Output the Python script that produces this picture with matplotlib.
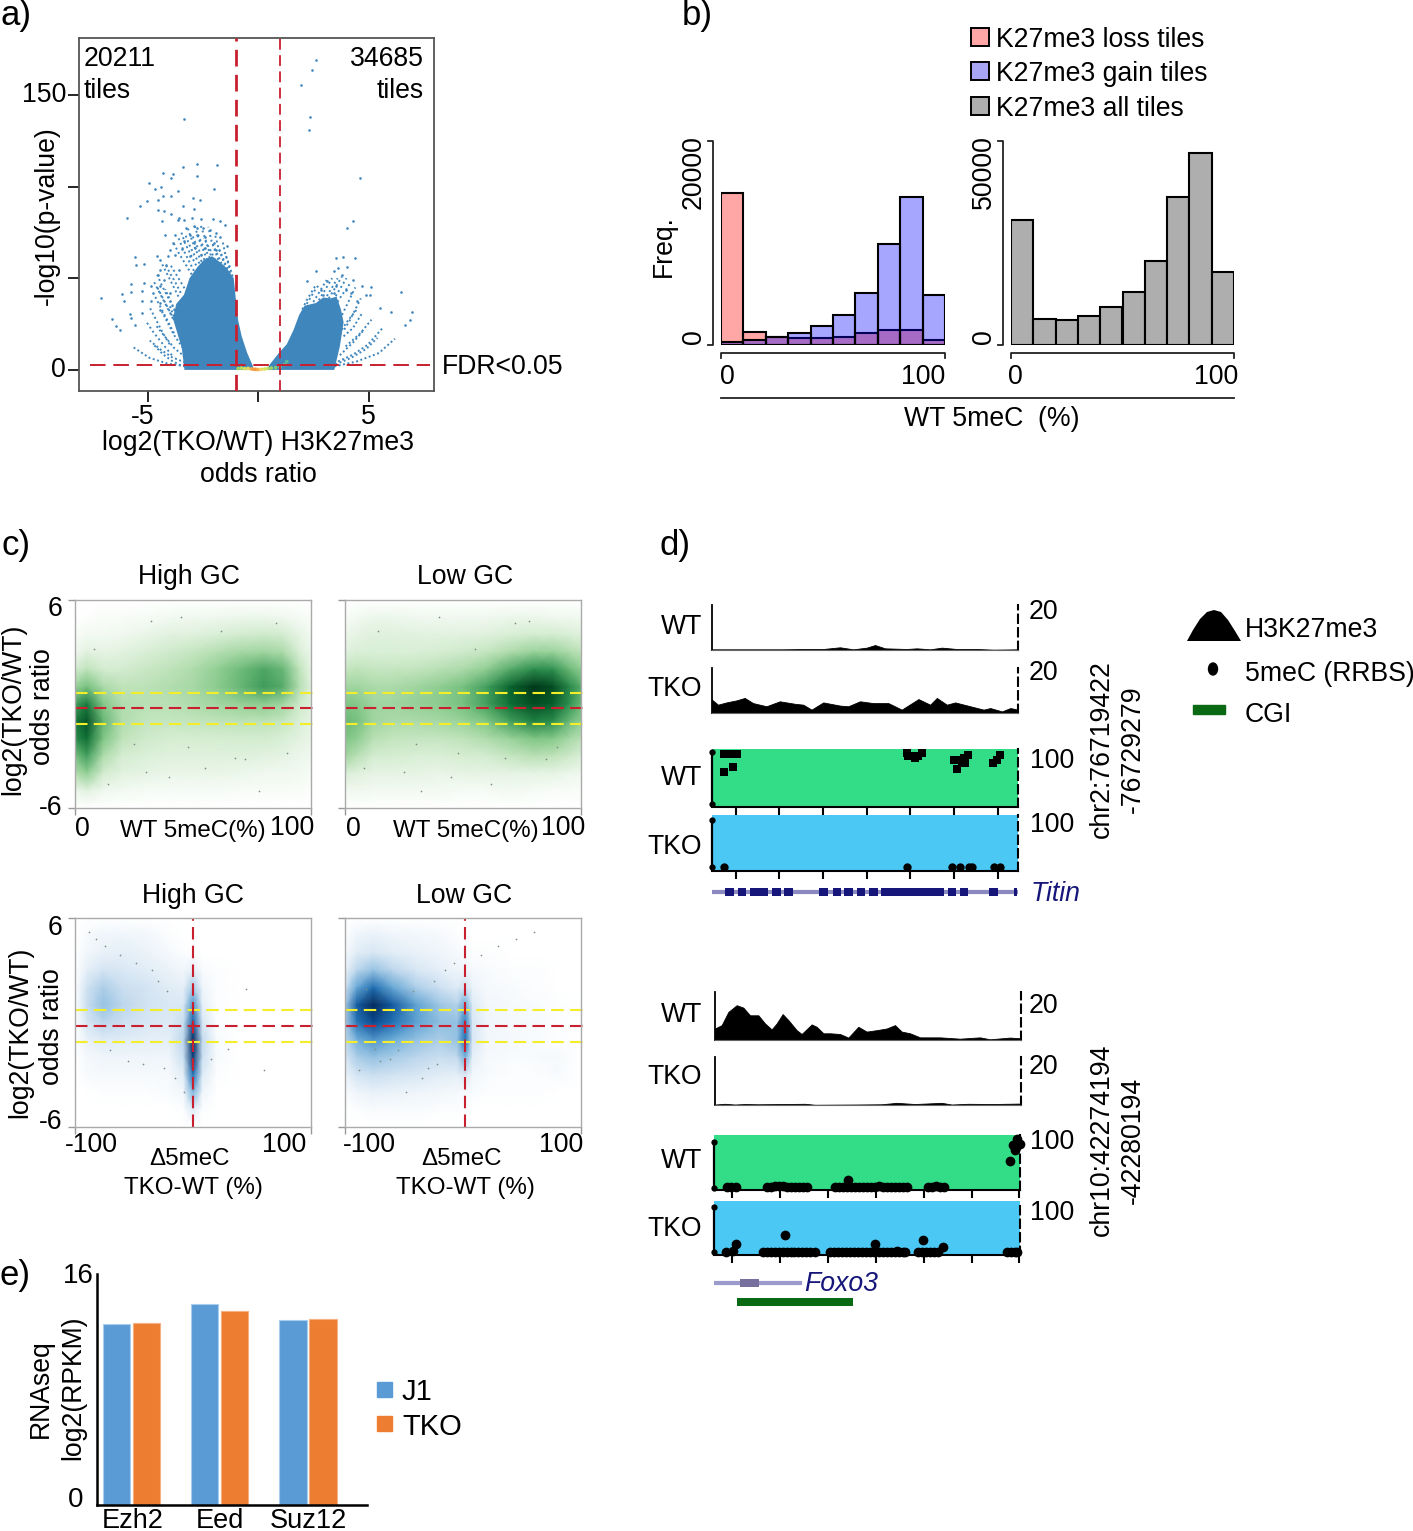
#!/usr/bin/env python
import numpy as np
import matplotlib
matplotlib.use("Agg")
import matplotlib.pyplot as plt
from matplotlib.colors import LinearSegmentedColormap
from matplotlib.patches import Rectangle, Ellipse

# panel a: outline of the dense mass, the arcs and the single points
mass_left_x = [-3.33, -3.45, -3.65, -3.85, -3.70, -3.35, -3.10, -2.75, -2.45, -2.08, -1.75, -1.41, -1.10, -1.00, -0.90,
               -0.74, -0.49, -0.23, -0.23]
mass_left_y = [0, 12.0, 20.0, 28.0, 36.0, 41.0, 50.0, 56.0, 60.0, 62.0, 59.0, 55.5, 50.0, 38.0, 27.0, 18.3, 9.2, 2.0, 0]
mass_right_x = [0.40, 0.52, 0.94, 1.30, 1.61, 1.86, 2.10, 2.62, 2.95, 3.29, 3.55, 3.75, 3.87, 3.70, 3.45]
mass_right_y = [0, 2.8, 9.2, 14.0, 21.9, 30.0, 35.0, 36.5, 39.5, 39.0, 40.0, 33.0, 26.0, 12.8, 0]
arcs_x = [[-3.3, -4.1, -4.9, -5.7], [-3.3, -3.9, -4.4, -4.9], [-3.3, -3.8, -4.2, -4.6], [-3.4, -3.8, -4.1, -4.4],
          [-3.4, -3.7, -4.0], [-3.5, -3.9, -4.3, -4.7], [-3.6, -3.9, -4.2],
          [3.45, 4.46, 5.47, 6.19], [3.62, 4.29, 4.96, 5.63], [3.96, 4.63, 5.13], [3.87, 4.29, 4.71], [3.79, 4.04, 4.46],
          [3.5, 4.2, 4.9, 5.4], [3.7, 4.3, 4.8]]
arcs_y = [[2.0, 3.5, 6.5, 12.8], [4.0, 7.0, 11.0, 16.0], [7.0, 12.0, 18.0, 24.0], [12.0, 19.0, 26.0, 33.0],
          [18.0, 26.0, 35.0], [2.5, 5.0, 8.5, 13.5], [28.0, 36.0, 44.0],
          [1.9, 4.6, 9.2, 17.0], [4.6, 8.3, 13.7, 22.8], [12.8, 20.0, 27.4], [18.3, 22.8, 31.0], [22.0, 26.5, 32.8],
          [3.0, 6.5, 11.5, 17.5], [8.0, 15.0, 22.0]]
# looser runs of points above and beside the mass
cloud_x = [[-3.1, -3.4, -3.7, -4.0], [-3.0, -3.3, -3.6, -3.85], [-2.8, -3.05, -3.3, -3.5], [-2.55, -2.8, -3.0, -3.2],
           [-2.3, -2.5, -2.7, -2.9], [-2.05, -2.25, -2.4, -2.6], [-1.8, -1.95, -2.1, -2.25], [-1.5, -1.65, -1.8, -1.95],
           [-1.25, -1.35, -1.5, -1.6], [-3.7, -4.0, -4.3, -4.6], [-3.75, -4.05, -4.35, -4.6], [-3.6, -3.85, -4.1, -4.35],
           [-4.0, -4.3, -4.6, -4.9], [-3.9, -4.3, -4.7, -5.1],
           [2.0, 2.2, 2.4, 2.6], [2.5, 2.7, 2.9, 3.1], [3.0, 3.2, 3.4, 3.6], [3.4, 3.6, 3.8, 4.0], [3.8, 4.0, 4.2, 4.4],
           [3.9, 4.15, 4.4, 4.65],
           [-2.9, -3.15, -3.4, -3.6], [-2.65, -2.9, -3.1, -3.3], [-2.42, -2.62, -2.82, -3.0], [-2.18, -2.36, -2.55, -2.72],
           [-1.95, -2.1, -2.28, -2.45], [-1.65, -1.8, -1.95, -2.1], [-1.38, -1.52, -1.66, -1.8], [-1.15, -1.25, -1.38, -1.5],
           [-3.8, -4.1, -4.4, -4.7], [-3.85, -4.15, -4.45, -4.75], [-3.5, -3.75, -4.0, -4.2],
           [2.2, 2.4, 2.6, 2.8], [2.75, 2.95, 3.15, 3.35], [3.2, 3.4, 3.6, 3.8], [3.6, 3.8, 4.0, 4.2]]
cloud_y = [[40, 46, 52, 58], [52, 58, 64, 70], [57, 63, 69, 76], [59, 65, 71, 78], [60, 66, 72, 80], [60, 66, 72, 79],
           [60, 65, 70, 78], [57, 62, 67, 74], [53, 58, 64, 70], [25, 32, 39, 46], [32, 39, 46, 53], [40, 46, 52, 58],
           [14, 20, 27, 34], [8, 14, 20, 27],
           [33, 38, 42, 46], [37, 41, 45, 49], [38, 42, 46, 50], [38, 42, 46, 50], [30, 35, 40, 45], [22, 27, 33, 39],
           [54, 60, 66, 72], [58, 63, 68, 74], [60, 64, 69, 74], [61, 65, 69, 74], [60, 64, 68, 72], [58, 62, 66, 70],
           [55, 59, 63, 67], [51, 55, 60, 64], [20, 27, 34, 41], [28, 35, 42, 49], [42, 48, 53, 58],
           [36, 40, 44, 47], [38, 42, 46, 50], [39, 43, 47, 51], [37, 41, 44, 48]]
points_x = [2.62, 2.42, 1.96, 2.33, 2.30, 4.59, 4.31, 4.02, 4.38, 3.84, 3.54, 4.04, 3.62, 3.42, 2.62, 6.47, 6.02, 6.97,
            6.89, 6.67, 2.23, 3.12, 3.79, 4.29, 4.71, 5.10, 4.88, 5.05, 5.50, 4.46, 2.87, 3.54, 3.96, 4.21, 3.45, 2.95,
            -3.35, -2.75, -1.84, -3.38, -4.29, -3.85, -2.78, -3.95, -4.93, -4.67, -4.37, -3.64, -1.98, -4.29, -3.95,
            -4.51, -5.03, -2.95, -2.63, -5.34, -3.38, -4.51, -4.26, -2.88, -5.93, -3.95, -3.59, -3.00, -2.58, -2.04,
            -4.34, -3.62, -3.33, -1.74, -1.49, -2.91, -2.75, -2.50, -3.25, -2.16, -1.91, -4.22, -3.75, -3.08, -2.75,
            -2.41, -1.74, -3.84, -3.33, -2.91, -1.99, -1.41, -4.00, -3.42, -2.83, -2.41, -1.91, -5.56, -4.56, -4.09,
            -3.75, -3.08, -2.58, -5.50, -5.18, -4.42, -4.17, -3.59, -4.42, -4.51, -4.26, -5.76, -5.18, -4.84, -4.42,
            -4.00, -6.15, -5.76, -5.26, -4.76, -7.09, -6.05, -5.26, -4.84, -4.42, -5.81, -5.73, -5.26, -4.42, -6.62,
            -5.56, -6.43, -6.23]
points_y = [169.2, 163.4, 155.4, 137.9, 131.0, 104.6, 81.2, 77.2, 61.0, 61.7, 61.0, 55.9, 55.5, 53.7, 53.7, 42.3, 31.4,
            31.4, 27.4, 24.6, 48.3, 48.3, 51.9, 49.2, 45.5, 45.2, 41.0, 41.0, 33.7, 37.4, 43.7, 45.6, 43.7, 41.9, 41.9,
            41.0, 137.0, 112.5, 111.5, 110.4, 107.5, 107.0, 105.5, 104.6, 101.9, 98.8, 99.7, 97.7, 98.8, 94.6, 94.8,
            92.8, 92.1, 93.9, 92.8, 89.2, 89.2, 87.0, 86.8, 87.7, 83.0, 85.2, 82.8, 82.8, 82.5, 82.3, 81.2, 81.6, 81.6,
            81.0, 79.2, 78.3, 77.4, 77.4, 77.4, 76.5, 74.6, 73.7, 73.4, 73.7, 73.7, 72.4, 72.4, 69.2, 70.1, 69.2, 69.2,
            67.4, 65.5, 65.9, 66.4, 66.4, 65.5, 61.7, 62.3, 61.9, 62.8, 61.9, 62.8, 57.4, 57.7, 60.1, 57.4, 54.6, 54.6,
            51.9, 49.2, 46.8, 47.4, 45.6, 45.6, 41.9, 41.4, 42.3, 42.8, 41.9, 39.2, 37.4, 37.4, 37.4, 36.5, 30.6, 28.3,
            31.0, 32.8, 27.7, 24.6, 24.1, 21.5]
ns_x = [-0.9, -0.75, -0.6, -0.45, -0.3, -0.2, -0.1, 0.0, 0.15, 0.3, 0.45, 0.6, 0.8, 1.0, 1.2, 1.3]
ns_y = [0.8, 1.0, 0.7, 0.8, 0.5, 0.4, 0.3, 0.2, 0.3, 0.5, 0.8, 1.0, 1.2, 1.6, 3.0, 4.5]
ns_col = ["#9ed35f", "#b7dc5c", "#d8e35a", "#f2d85a", "#f6b04e", "#f69a45", "#f69a45", "#f6b04e", "#f2d85a", "#d8e35a",
          "#b7dc5c", "#9ed35f", "#7fcc77", "#6cc38f", "#5cb99a", "#5cb99a"]

# panel b
bin_edges = np.arange(0, 100, 10)
loss_tiles = [14927, 1268, 780, 683, 683, 780, 1171, 1463, 1463, 488]
gain_tiles = [293, 488, 780, 1171, 1854, 2927, 5073, 9854, 14537, 4878]
all_tiles = [30732, 6341, 6098, 7073, 9268, 12927, 20488, 36341, 47073, 17805]

# panel c: density, rows from +6 down to -6
dens_y = [6, 5, 4, 3, 2, 1, 0, -1, -2, -3, -4, -5, -6]
meth_x = [0, 5, 12, 20, 30, 40, 50, 60, 70, 80, 88, 95, 100]
high_gc_meth = [
    [0, 0, 0, 0, 0, 0, 0, 0, 0, 0, 0, 0, 0],
    [0, .01, .02, .02, .03, .04, .05, .05, .06, .06, .05, .03, .02],
    [.02, .04, .04, .05, .07, .09, .10, .12, .14, .15, .14, .08, .04],
    [.05, .09, .08, .09, .12, .15, .18, .23, .28, .30, .26, .12, .06],
    [.14, .20, .14, .14, .17, .20, .25, .34, .44, .52, .46, .20, .08],
    [.32, .42, .26, .20, .21, .24, .28, .36, .46, .56, .50, .24, .10],
    [.55, .70, .38, .24, .22, .22, .25, .29, .33, .36, .30, .16, .10],
    [.72, .88, .46, .24, .19, .18, .19, .20, .21, .21, .18, .12, .08],
    [.62, .78, .40, .20, .15, .13, .13, .13, .14, .14, .12, .09, .07],
    [.42, .55, .25, .13, .11, .10, .10, .10, .10, .09, .08, .06, .05],
    [.24, .34, .14, .09, .08, .07, .07, .07, .06, .05, .05, .04, .03],
    [.06, .09, .05, .04, .03, .03, .03, .03, .02, .02, .02, .02, .01],
    [0, 0, 0, 0, 0, 0, 0, 0, 0, 0, 0, 0, 0]]
low_gc_meth = [
    [0, 0, 0, 0, 0, 0, 0, 0, 0, 0, 0, 0, 0],
    [.02, .04, .06, .06, .05, .05, .05, .05, .06, .06, .05, .05, .04],
    [.06, .08, .10, .10, .09, .09, .09, .10, .12, .14, .14, .12, .10],
    [.10, .12, .12, .12, .12, .13, .15, .18, .25, .32, .32, .25, .20],
    [.18, .20, .18, .18, .19, .22, .26, .35, .50, .62, .60, .45, .35],
    [.30, .30, .26, .26, .30, .35, .42, .55, .82, 1.0, .92, .65, .50],
    [.40, .38, .30, .30, .33, .36, .42, .55, .78, .92, .85, .60, .45],
    [.45, .42, .30, .26, .26, .28, .32, .40, .55, .68, .62, .45, .35],
    [.40, .35, .22, .19, .18, .18, .20, .25, .32, .40, .38, .28, .22],
    [.30, .22, .14, .13, .12, .12, .13, .14, .18, .22, .20, .16, .12],
    [.12, .10, .08, .08, .08, .07, .08, .08, .08, .08, .08, .06, .05],
    [.04, .05, .04, .04, .04, .04, .03, .03, .04, .03, .02, .02, .02],
    [0, 0, 0, 0, 0, 0, 0, 0, 0, 0, 0, 0, 0]]
delta_x_high = [-100, -90, -76, -60, -40, -20, -8, 0, 8, 20, 40, 60, 80, 100]
high_gc_delta = [
    [0, 0, 0, 0, 0, 0, 0, 0, 0, 0, 0, 0, 0, 0],
    [0, .02, .05, .05, .04, .01, 0, 0, 0, 0, 0, 0, 0, 0],
    [0, .04, .07, .08, .06, .03, .01, .01, 0, 0, 0, 0, 0, 0],
    [0, .08, .13, .11, .09, .06, .04, .08, .02, .01, 0, 0, 0, 0],
    [0, .14, .24, .16, .13, .09, .08, .25, .05, .01, 0, 0, 0, 0],
    [0, .16, .30, .20, .14, .11, .12, .48, .08, .01, 0, 0, 0, 0],
    [0, .12, .20, .15, .12, .10, .16, .68, .12, .01, 0, 0, 0, 0],
    [0, .07, .10, .09, .08, .08, .20, .98, .18, .02, 0, 0, 0, 0],
    [0, .03, .05, .05, .05, .05, .16, .90, .16, .02, 0, 0, 0, 0],
    [0, .02, .03, .03, .03, .03, .09, .60, .10, .01, 0, 0, 0, 0],
    [0, 0, .01, .01, .01, .02, .04, .35, .05, 0, 0, 0, 0, 0],
    [0, 0, 0, 0, 0, 0, .01, .10, .01, 0, 0, 0, 0, 0],
    [0, 0, 0, 0, 0, 0, 0, 0, 0, 0, 0, 0, 0, 0]]
delta_x_low = [-100, -90, -76, -60, -40, -20, -5, 2, 8, 20, 40, 60, 80, 100]
low_gc_delta = [
    [0, 0, 0, 0, 0, 0, 0, 0, 0, 0, 0, 0, 0, 0],
    [.01, .05, .07, .05, .04, .03, .01, .01, 0, 0, 0, 0, 0, 0],
    [.03, .09, .12, .09, .07, .05, .03, .02, .01, .01, 0, 0, 0, 0],
    [.06, .20, .30, .20, .12, .08, .05, .05, .03, .02, .01, .01, 0, 0],
    [.14, .42, .62, .42, .24, .15, .10, .14, .06, .03, .02, .01, 0, 0],
    [.26, .70, 1.0, .72, .44, .28, .22, .40, .10, .04, .03, .02, .01, 0],
    [.24, .58, .80, .60, .44, .32, .30, .55, .12, .05, .03, .03, .01, 0],
    [.18, .38, .48, .40, .30, .24, .30, .60, .12, .04, .03, .02, .01, 0],
    [.12, .24, .30, .25, .20, .16, .18, .38, .08, .03, .02, .02, .03, 0],
    [.06, .13, .16, .14, .12, .09, .08, .12, .04, .02, .01, .01, .02, 0],
    [.02, .05, .07, .06, .05, .04, .03, .03, .02, .01, .01, .01, 0, 0],
    [0, .01, .02, .02, .02, .01, .01, .01, 0, 0, 0, 0, 0, 0],
    [0, 0, 0, 0, 0, 0, 0, 0, 0, 0, 0, 0, 0, 0]]
specks_meth_x = [32, 45, 62, 85, 8, 25, 48, 68, 90, 30, 55, 72, 14, 40, 78]
specks_meth_y = [4.8, 5.0, 4.2, 4.7, 3.2, -2.3, -2.5, -3.1, -2.8, -3.9, -3.7, -3.2, -4.6, -4.2, -5.0]
specks_delta_x = [-88, -82, -75, -62, -48, -35, -30, -22, -70, -55, -42, -25, -15, -8, 15, 30, 45, 60]
specks_delta_y = [5.2, 4.8, 4.4, 3.9, 3.4, 3.0, 2.4, 1.8, -1.6, -2.2, -2.4, -2.6, -3.2, -4.0, -2.1, -1.5, 1.9, -2.7]

# panel d: coverage and methylation along the two regions (arbitrary position units)
titin_wt_pos = [0, 213, 273, 333, 383, 423, 463, 488, 518, 583, 613, 653, 688, 733, 793, 843, 916]
titin_wt_cov = [.3, .3, .44, .44, 1.2, .3, 1.04, 2.2, .74, .44, .74, .3, 1.04, .44, .44, .15, .3]
titin_tko_pos = [0, 18, 43, 73, 98, 123, 163, 203, 248, 273, 298, 333, 383, 408, 443, 483, 528, 568, 618, 653, 673,
                 703, 728, 773, 813, 833, 868, 893, 916]
titin_tko_cov = [5.9, 3.7, 4.7, 5.6, 6.7, 4.4, 3.0, 5.2, 4.1, 3.7, 1.5, 4.7, 3.3, 3.0, 5.2, 4.4, 4.4, 1.5, 6.2, 3.7,
                 6.7, 3.7, 4.7, 3.0, 1.5, 2.2, .7, 2.2, 1.5]
foxo_wt_pos = [0, 20, 40, 65, 85, 105, 130, 150, 170, 185, 203, 220, 245, 260, 290, 305, 325, 345, 375, 400, 430, 455,
               485, 515, 540, 560, 585, 615, 675, 735, 795, 825, 885, 918]
foxo_wt_cov = [4.8, 6.2, 11.7, 14.5, 13.5, 10.3, 10.3, 6.9, 4.4, 6.9, 10.8, 8.3, 4.1, 2.5, 6.5, 5.5, 2.8, 2.8, 2.5, 1.0,
               5.5, 3.5, 4.1, 4.8, 6.2, 3.5, 2.8, 1.1, 1.1, .55, 1.1, .3, 1.0, .7]
foxo_tko_pos = [0, 30, 60, 90, 130, 200, 270, 300, 420, 500, 545, 600, 680, 710, 760, 830, 918]
foxo_tko_cov = [.2, .5, .2, .4, .3, .4, .5, .1, .2, .3, .9, .4, .9, .2, .5, .4, .6]

titin_wt_mx = [35, 61, 75, 62, 37, 583, 598, 608, 628, 588, 618, 723, 738, 753, 765, 748, 733, 758, 841, 853, 861]
titin_wt_my = [96.7, 96.7, 96.7, 71.9, 62, 98, 91.5, 88, 98, 91.5, 91.5, 83.7, 85, 88, 93.5, 78.4, 66.7, 78.4, 79.7, 85, 93.5]
titin_tko_mx = [35, 583, 718, 743, 768, 778, 843, 863]
titin_tko_my = [0, 0, 0, 0, 0, 0, 0, 0]
foxo_wt_mx = [40, 50, 66, 158, 170, 182, 194, 206, 218, 230, 242, 254, 266, 278, 363, 375, 387, 403, 399, 411, 423, 435,
              447, 459, 471, 483, 495, 507, 519, 531, 543, 555, 567, 578, 643, 655, 667, 679, 691, 888, 903, 896, 908, 918]
foxo_wt_my = [2, 2, 2, 2, 2, 3, 3, 3, 2, 2, 2, 2, 2, 2, 2, 2, 2, 16.7, 2, 2, 2, 2, 2, 2, 2, 2, 3, 2, 2, 2, 2, 2, 2, 2,
              2, 2, 3, 2, 2, 58, 82, 93, 105, 96]
foxo_tko_mx = [36, 58, 65, 147, 159, 171, 183, 195, 213, 207, 219, 231, 240, 253, 265, 277, 289, 303, 348, 360, 372, 384,
               396, 408, 420, 432, 444, 456, 468, 480, 483, 495, 508, 520, 532, 544, 548, 556, 568, 573, 613, 625, 628,
               637, 649, 661, 673, 686, 878, 890, 902, 910]
foxo_tko_my = [0, 2, 17.5, 0, 0, 0, 0, 0, 39, 0, 0, 0, 0, 0, 0, 0, 0, 0, 0, 0, 0, 0, 0, 0, 0, 0, 0, 0, 0, 0, 18, 0, 0, 0,
               0, 0, 3, 0, 0, 0, 0, 0, 28, 0, 0, 0, 0, 12, 0, 0, 0, 0]
titin_exon_start = [38, 78, 113, 181, 215, 320, 361, 396, 433, 471, 505, 705, 741, 830, 903]
titin_exon_len = [27, 23, 55, 27, 28, 26, 26, 27, 25, 26, 190, 26, 26, 26, 10]

# panel e
genes = ["Ezh2", "Eed", "Suz12"]
j1_rpkm = [12.53, 13.92, 12.81]
tko_rpkm = [12.60, 13.43, 12.88]

W, H = 1413, 1531
plt.rcParams["font.family"] = ["Liberation Sans", "DejaVu Sans"]
fig = plt.figure(figsize=(W / 100, H / 100), dpi=100)

RED = "#c8202f"
YELLOW = "#f4ee2a"
FS = 19.2
SMALL = 17.4
GREENS = LinearSegmentedColormap.from_list("g", ["#ffffff", "#bfe3ba", "#7fc684", "#2f9150", "#0a6a30", "#00381a"])
BLUES = LinearSegmentedColormap.from_list("b", ["#ffffff", "#bcd6ec", "#6cadd8", "#2171b5", "#0a4a90", "#042a5c"])


def px_axes(x0, y0, x1, y1):
    ax = fig.add_axes([x0 / W, 1 - y1 / H, (x1 - x0) / W, (y1 - y0) / H])
    ax.patch.set_alpha(0)
    return ax


def bare(ax):
    for s in ax.spines.values():
        s.set_visible(False)
    ax.set_xticks([])
    ax.set_yticks([])


# overlay in picture pixels for the labels and hand drawn annotation
deco = px_axes(0, 0, W, H)
deco.set_xlim(0, W)
deco.set_ylim(H, 0)
deco.axis("off")
deco.set_zorder(20)


def T(x, y, s, ha="center", rot=0, size=FS, **kw):
    y = y + 2 if rot == 0 else y - 1
    deco.text(x, y, s, ha=ha, va="center", rotation=rot, fontsize=size, rotation_mode="anchor", **kw)


# ---- a) volcano
ax = px_axes(79, 38, 434, 391)
ax.set_xlim(-8.1, 7.96)
ax.set_ylim(-11.5, 181)
blue = "#3f86bd"
ax.fill(mass_left_x, mass_left_y, color=blue, lw=0)
ax.fill(mass_right_x, mass_right_y, color=blue, lw=0)
for cx, cy in zip(arcs_x, arcs_y):
    ax.plot(cx, cy, color=blue, lw=1.4, ls=(0, (1, 1.3)))
for cx, cy in zip(cloud_x, cloud_y):
    ax.plot(cx, cy, color=blue, lw=1.4, ls=(0, (1, 1.5)))
ax.scatter(points_x, points_y, s=3.5, color=blue, lw=0)
ax.scatter(ns_x, ns_y, s=7, c=ns_col, lw=0, zorder=3)
ax.axvline(-1, color=RED, lw=2, ls=(0, (6, 3)), zorder=4)
ax.axvline(1, color=RED, lw=1.3, ls=(0, (6, 3)), zorder=4)
ax.plot([-7.6, 7.8], [2.8, 2.8], color=RED, lw=1.4, ls=(0, (8, 4)), zorder=4)
ax.set_xticks([-5, 0, 5])
ax.set_yticks([0, 50, 100, 150])
ax.set_xticklabels([])
ax.set_yticklabels([])
ax.tick_params(length=8, width=1.2)
for s in ax.spines.values():
    s.set_color("#555555")
    s.set_linewidth(1.3)
T(16, 14, "a)", size=25)
T(84, 57, "20211", ha="left")
T(84, 89, "tiles", ha="left")
T(424, 57, "34685", ha="right")
T(424, 89, "tiles", ha="right")
T(66, 93, "150", ha="right")
T(66, 368, "0", ha="right")
T(47, 217, "-log10(p-value)", rot=90)
T(143, 415, "-5")
T(368, 415, "5")
T(258, 441, "log2(TKO/WT) H3K27me3")
T(258, 473, "odds ratio")
T(442, 365, "FDR<0.05", ha="left")

# ---- b) histograms
pink = (1, 0, 0, 0.35)
lilac = (0, 0, 1, 0.35)
ax = px_axes(721, 141, 945, 345)
ax.bar(bin_edges, loss_tiles, width=10, align="edge", facecolor=pink, edgecolor="black", lw=1.5)
ax.bar(bin_edges, gain_tiles, width=10, align="edge", facecolor=lilac, edgecolor="black", lw=1.5)
ax.set_xlim(0, 100)
ax.set_ylim(0, 20000)
bare(ax)
ax2 = px_axes(1011, 141, 1234, 345)
ax2.bar(bin_edges, all_tiles, width=10, align="edge", facecolor="#aeaeae", edgecolor="black", lw=1.5)
ax2.set_xlim(0, 100)
ax2.set_ylim(0, 50000)
bare(ax2)
for x0, x1, yx in [(721, 945, 353), (1011, 1234, 353)]:
    deco.plot([x0, x0, x1, x1], [yx + 5, yx, yx, yx + 5], color="#222222", lw=1.3)
    deco.plot([x0 - 13, x0 - 8, x0 - 8, x0 - 13], [141, 141, 345, 345], color="#222222", lw=1.3)
deco.plot([721, 1234], [398, 398], color="#222222", lw=1.3)
T(697, 14, "b)", size=25)
for y, lab, col in [(38, "K27me3 loss tiles", "#ffa6a6"), (72, "K27me3 gain tiles", "#a6a6f5"),
                    (107, "K27me3 all tiles", "#aeaeae")]:
    deco.add_patch(Rectangle((971, y - 10), 18, 18, facecolor=col, edgecolor="black", lw=1.4))
    T(996, y, lab, ha="left")
T(664, 247, "Freq.", rot=90)
T(694, 173, "20000", rot=90)
T(694, 338, "0", rot=90)
T(984, 173, "50000", rot=90)
T(984, 338, "0", rot=90)
T(727, 375, "0")
T(923, 375, "100")
T(1015, 375, "0")
T(1216, 375, "100")
T(992, 417, "WT 5meC  (%)")

# ---- c) density panels
panels = [((75, 600, 311, 808), meth_x, high_gc_meth, GREENS, (0, 100), specks_meth_x, specks_meth_y),
          ((345, 600, 581, 808), meth_x, low_gc_meth, GREENS, (0, 100), specks_meth_x[::-1], specks_meth_y),
          ((75, 918, 311, 1127), delta_x_high, high_gc_delta, BLUES, (-100, 100), specks_delta_x, specks_delta_y),
          ((345, 918, 581, 1127), delta_x_low, low_gc_delta, BLUES, (-100, 100), specks_delta_x, specks_delta_y[::-1])]
for i, (box, xs, z, cm, xr, sx, sy) in enumerate(panels):
    ax = px_axes(*box)
    ax.pcolormesh(xs, dens_y, np.array(z), shading="gouraud", cmap=cm, vmin=0, vmax=1, rasterized=True)
    ax.scatter(sx, sy, s=1.5, color="#7f8f88", lw=0)
    ax.set_xlim(*xr)
    ax.set_ylim(-6, 6)
    ax.set_xticks(xr)
    ax.set_yticks([-6, 6])
    ax.set_xticklabels([])
    ax.set_yticklabels([])
    ax.tick_params(length=5, width=1, color="#999999")
    for s in ax.spines.values():
        s.set_color("#aaaaaa")
        s.set_linewidth(1)
    hi, lo, mid = (0.63, -1.13, -0.24) if i < 2 else (0.72, -1.12, -0.2)
    for v, c in [(hi, YELLOW), (lo, YELLOW), (mid, RED)]:
        ax.plot([xr[0], xr[1] + 0.01 * (xr[1] - xr[0])], [v, v], color=c, lw=1.5, ls=(0, (6, 3)), clip_on=False)
    if i == 2:
        ax.axvline(0, color=RED, lw=1.5, ls=(0, (6, 3)))
    if i == 3:
        ax.axvline(1.7, color=RED, lw=1.5, ls=(0, (6, 3)))
T(16, 544, "c)", size=25)
T(189, 575, "High GC")
T(465, 575, "Low GC")
T(193, 894, "High GC")
T(464, 894, "Low GC")
T(13, 710, "log2(TKO/WT)", rot=90)
T(43, 708, "odds ratio", rot=90)
T(62, 607, "6", ha="right")
T(62, 806, "-6", ha="right")
T(82, 827, "0")
T(193, 829, "WT 5meC(%)", size=SMALL)
T(292, 826, "100")
T(353, 827, "0")
T(466, 829, "WT 5meC(%)", size=SMALL)
T(563, 826, "100")
T(20, 1033, "log2(TKO/WT)", rot=90)
T(52, 1028, "odds ratio", rot=90)
T(62, 926, "6", ha="right")
T(62, 1120, "-6", ha="right")
T(91, 1143, "-100")
T(284, 1143, "100")
T(190, 1157, "Δ5meC", size=SMALL)
T(193, 1186, "TKO-WT (%)", size=SMALL)
T(369, 1143, "-100")
T(561, 1143, "100")
T(461, 1157, "Δ5meC", size=SMALL)
T(465, 1186, "TKO-WT (%)", size=SMALL)


# ---- d) tracks
def cov_track(box, pos, cov, span):
    a = px_axes(*box)
    a.fill_between(pos, cov, 0, color="black", lw=0.6)
    a.set_xlim(0, span)
    a.set_ylim(0, 20)
    bare(a)
    a.spines["left"].set_visible(True)
    a.spines["left"].set_linewidth(1.3)
    a.spines["bottom"].set_visible(True)
    a.spines["bottom"].set_color("#666666")
    a.spines["right"].set_visible(True)
    a.spines["right"].set_linestyle((0, (4, 2.5)))
    a.spines["right"].set_linewidth(1.5)


def meth_track(box, mx, my, span, ylim, col, ticks, marker, ms=7):
    a = px_axes(*box)
    a.set_facecolor(col)
    a.patch.set_alpha(1)
    a.plot(mx, my, marker, color="black", ms=ms, clip_on=False, mew=0)
    a.plot([0, 0], [0, 100], color="black", lw=1.6, marker="o", ms=3.5, clip_on=False)
    a.set_xlim(0, span)
    a.set_ylim(*ylim)
    a.set_yticks([])
    a.set_xticks(ticks)
    a.set_xticklabels([])
    a.tick_params(axis="x", length=6, width=1.5)
    for k, s in a.spines.items():
        s.set_visible(k in ("bottom", "right"))
    a.spines["bottom"].set_linewidth(1.5)
    a.spines["right"].set_linestyle((0, (4, 2.5)))
    a.spines["right"].set_linewidth(1.5)


titin_ticks = [71, 201, 332, 463, 593, 723, 856]
foxo_ticks = [55, 198, 342, 486, 630, 774, 916]
cov_track((712, 605, 1018, 650), titin_wt_pos, titin_wt_cov, 916)
cov_track((712, 668, 1018, 713), titin_tko_pos, titin_tko_cov, 916)
meth_track((712, 749, 1018, 807), titin_wt_mx, titin_wt_my, 916, (-6.5, 106), "#33dd88", titin_ticks, "s", ms=5.5)
meth_track((712, 815, 1018, 871), titin_tko_mx, titin_tko_my, 916, (-7.7, 110.6), "#4cc8f5", titin_ticks, "o", ms=6)
cov_track((715, 992, 1021, 1040), foxo_wt_pos, foxo_wt_cov, 918)
cov_track((715, 1057, 1021, 1105), foxo_tko_pos, foxo_tko_cov, 918)
meth_track((714, 1135, 1020, 1190), foxo_wt_mx, foxo_wt_my, 918, (-5, 114.5), "#33dd88", foxo_ticks, "o")
meth_track((714, 1201, 1020, 1255), foxo_tko_mx, foxo_tko_my, 918, (-5.8, 112.4), "#4cc8f5", foxo_ticks, "o")

# gene models
gm = px_axes(712, 882, 1018, 902)
gm.plot([0, 916], [0, 0], color="#8a8ac0", lw=3, zorder=1)
gm.bar(titin_exon_start, [2] * len(titin_exon_start), width=titin_exon_len, bottom=-1, align="edge", color="#16167a",
       zorder=3)
gm.set_xlim(0, 916)
gm.set_ylim(-2.4, 2.4)
bare(gm)
gm2 = px_axes(714, 1273, 1020, 1310)
gm2.plot([6, 258], [0.92, 0.92], color="#9a9acc", lw=3, zorder=1)
gm2.bar([78], [0.46], width=[57], bottom=0.69, align="edge", color="#77709f", zorder=3)
gm2.bar([68], [0.47], width=[350], bottom=-0.42, align="edge", color="#0a6a14", zorder=3)
gm2.set_xlim(0, 918)
gm2.set_ylim(-0.65, 1.5)
bare(gm2)

T(675, 544, "d)", size=25)
for y, s in [(625, "WT"), (687, "TKO"), (776, "WT"), (845, "TKO"),
             (1013, "WT"), (1075, "TKO"), (1159, "WT"), (1227, "TKO")]:
    T(702, y, s, ha="right")
for y in [610, 671, 1004, 1065]:
    T(1029, y, "20", ha="left")
for y in [759, 823, 1140, 1211]:
    T(1030, y, "100", ha="left")
T(1031, 892, "Titin", ha="left", style="italic", color="#16167a")
T(804, 1282, "Foxo3", ha="left", style="italic", color="#16167a")
T(1102, 750, "chr2:76719422", rot=90)
T(1133, 750, "-76729279", rot=90)
T(1102, 1141, "chr10:42274194", rot=90)
T(1133, 1141, "-42280194", rot=90)
dome_x = [1187, 1193, 1200, 1207, 1214, 1221, 1228, 1235, 1241]
dome_y = [641, 630, 619, 612, 610, 612, 620, 631, 641]
deco.fill(dome_x, dome_y, color="black", lw=0)
deco.add_patch(Ellipse((1213, 669), 9, 12, color="black"))
deco.add_patch(Rectangle((1193, 705), 32, 9, color="#0a6a14"))
T(1245, 628, "H3K27me3", ha="left")
T(1245, 672, "5meC (RRBS)", ha="left")
T(1245, 713, "CGI", ha="left")

# ---- e) bars
ax = px_axes(97, 1274, 367, 1505)
xpos = np.arange(len(genes))
ax.bar(xpos - 0.17, j1_rpkm, width=0.31, color="#5b9bd5", edgecolor="#a9cdec", lw=0.8)
ax.bar(xpos + 0.17, tko_rpkm, width=0.31, color="#ed7d31", edgecolor="#f5b183", lw=0.8)
ax.set_xlim(-0.39, 2.667)
ax.set_ylim(0, 16)
ax.set_xticks([])
ax.set_yticks([])
ax.spines["top"].set_visible(False)
ax.spines["right"].set_visible(False)
ax.spines["left"].set_linewidth(1.8)
ax.spines["bottom"].set_linewidth(1.8)
T(15, 1274, "e)", size=25)
T(78, 1274, "16", size=20)
T(76, 1498, "0", size=20)
T(41, 1390, "RNAseq", rot=90)
T(73, 1389, "log2(RPKM)", rot=90)
for x, g in zip([133, 220, 308], genes):
    T(x, 1519, g, size=19.5)
deco.add_patch(Rectangle((377, 1382), 15, 15, color="#5b9bd5"))
deco.add_patch(Rectangle((377, 1416), 15, 15, color="#ed7d31"))
T(402, 1390, "J1", ha="left", size=21)
T(402, 1425, "TKO", ha="left", size=21)

fig.savefig("out.png", dpi=100)
plt.close(fig)
